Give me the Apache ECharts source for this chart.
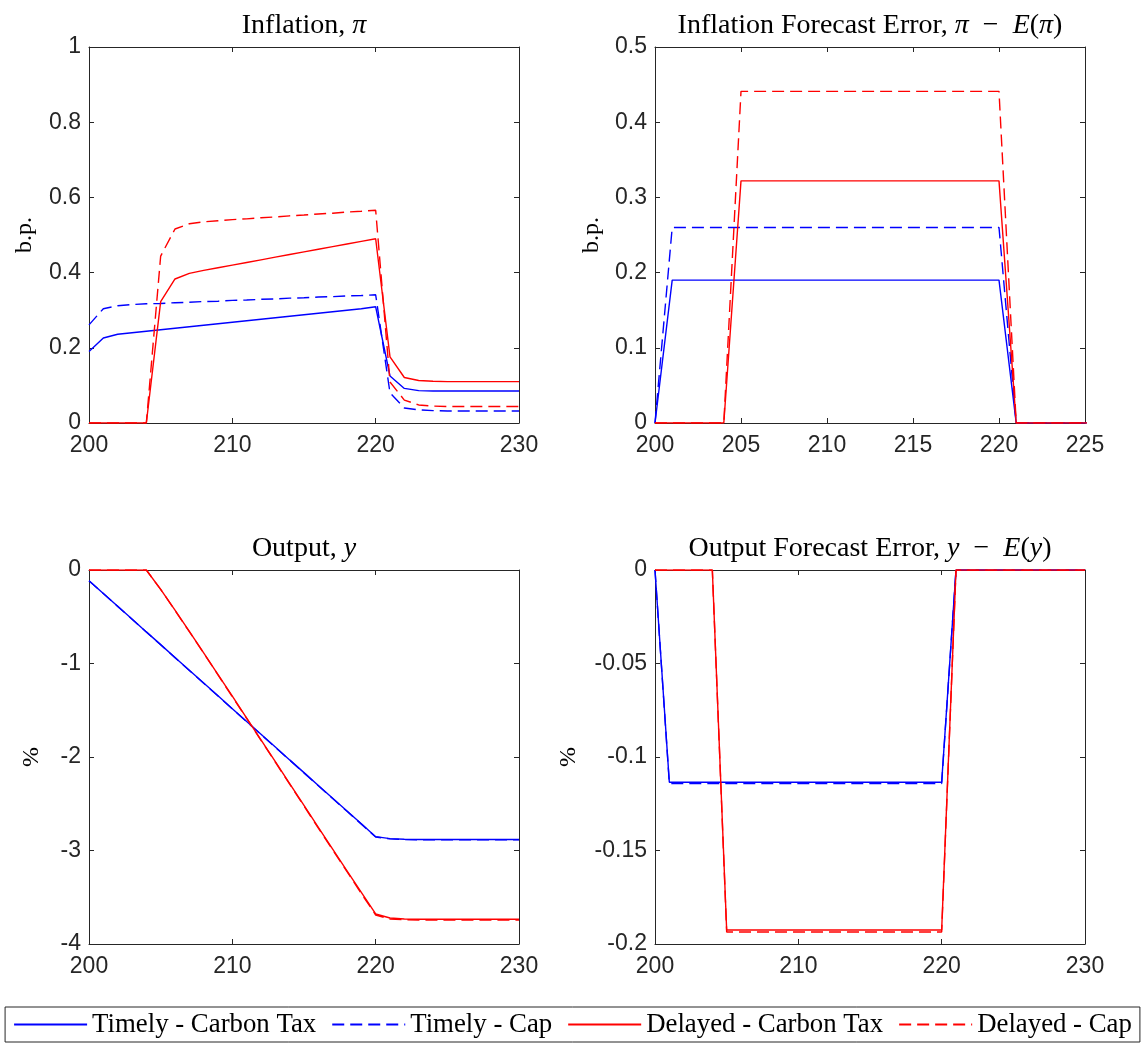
<!DOCTYPE html>
<html>
<head>
<meta charset="utf-8">
<script src="https://cdn.jsdelivr.net/npm/echarts@6/dist/echarts.min.js"></script>
<style>
  html, body { margin: 0; padding: 0; background: #ffffff; }
  #chart { width: 1145px; height: 1050px; }
</style>
</head>
<body>
<div id="chart"></div>
<script>
// Simulation periods
const periods = [200,201,202,203,204,205,206,207,208,209,210,211,212,213,214,215,216,217,218,219,220,221,222,223,224,225,226,227,228,229,230];

// Inflation, pi (b.p.)
const timelyTaxInfl   = [0.190,0.226,0.236,0.240,0.244,0.248,0.252,0.256,0.260,0.264,0.268,0.272,0.276,0.280,0.284,0.288,0.292,0.296,0.300,0.304,0.309,0.125,0.092,0.086,0.085,0.085,0.085,0.085,0.085,0.085,0.085];
const timelyCapInfl   = [0.261,0.304,0.312,0.315,0.317,0.318,0.320,0.321,0.323,0.324,0.326,0.327,0.329,0.330,0.332,0.333,0.335,0.336,0.338,0.339,0.341,0.080,0.040,0.035,0.033,0.032,0.032,0.032,0.032,0.032,0.032];
const delayedTaxInfl  = [0,0,0,0,0,0.323,0.383,0.398,0.406,0.413,0.420,0.427,0.434,0.441,0.448,0.455,0.462,0.469,0.476,0.483,0.490,0.176,0.121,0.113,0.111,0.110,0.110,0.110,0.110,0.110,0.110];
const delayedCapInfl  = [0,0,0,0,0,0.444,0.516,0.530,0.535,0.538,0.541,0.543,0.546,0.548,0.551,0.553,0.556,0.558,0.561,0.563,0.566,0.109,0.061,0.048,0.045,0.044,0.044,0.044,0.044,0.044,0.044];

// Inflation forecast error, pi - E(pi) (b.p.)
const timelyTaxPiErr  = [0,0.190,0.190,0.190,0.190,0.190,0.190,0.190,0.190,0.190,0.190,0.190,0.190,0.190,0.190,0.190,0.190,0.190,0.190,0.190,0.190,0,0,0,0,0,0,0,0,0,0];
const timelyCapPiErr  = [0,0.260,0.260,0.260,0.260,0.260,0.260,0.260,0.260,0.260,0.260,0.260,0.260,0.260,0.260,0.260,0.260,0.260,0.260,0.260,0.260,0,0,0,0,0,0,0,0,0,0];
const delayedTaxPiErr = [0,0,0,0,0,0.322,0.322,0.322,0.322,0.322,0.322,0.322,0.322,0.322,0.322,0.322,0.322,0.322,0.322,0.322,0.322,0,0,0,0,0,0,0,0,0,0];
const delayedCapPiErr = [0,0,0,0,0,0.441,0.441,0.441,0.441,0.441,0.441,0.441,0.441,0.441,0.441,0.441,0.441,0.441,0.441,0.441,0.441,0,0,0,0,0,0,0,0,0,0];

// Output, y (%)
const timelyTaxOut    = [-0.114,-0.251,-0.388,-0.525,-0.662,-0.798,-0.935,-1.072,-1.209,-1.346,-1.483,-1.620,-1.757,-1.894,-2.031,-2.167,-2.304,-2.441,-2.578,-2.715,-2.852,-2.873,-2.880,-2.882,-2.882,-2.882,-2.882,-2.882,-2.882,-2.882,-2.882];
const timelyCapOut    = [-0.115,-0.252,-0.389,-0.526,-0.663,-0.800,-0.937,-1.074,-1.211,-1.348,-1.485,-1.622,-1.759,-1.896,-2.033,-2.170,-2.307,-2.444,-2.581,-2.718,-2.855,-2.876,-2.884,-2.886,-2.886,-2.886,-2.886,-2.886,-2.886,-2.886,-2.886];
const delayedTaxOut   = [0,0,0,0,0,-0.207,-0.430,-0.657,-0.887,-1.118,-1.350,-1.583,-1.816,-2.050,-2.284,-2.518,-2.752,-2.985,-3.217,-3.449,-3.679,-3.722,-3.733,-3.735,-3.735,-3.735,-3.735,-3.735,-3.735,-3.735,-3.735];
const delayedCapOut   = [0,0,0,0,0,-0.208,-0.432,-0.660,-0.890,-1.122,-1.355,-1.588,-1.822,-2.056,-2.290,-2.525,-2.760,-2.994,-3.227,-3.460,-3.690,-3.733,-3.741,-3.743,-3.743,-3.743,-3.743,-3.743,-3.743,-3.743,-3.743];

// Output forecast error, y - E(y) (%)
const timelyTaxYErr   = [0,-0.1135,-0.1135,-0.1135,-0.1135,-0.1135,-0.1135,-0.1135,-0.1135,-0.1135,-0.1135,-0.1135,-0.1135,-0.1135,-0.1135,-0.1135,-0.1135,-0.1135,-0.1135,-0.1135,-0.1135,0,0,0,0,0,0,0,0,0,0];
const timelyCapYErr   = [0,-0.1142,-0.1142,-0.1142,-0.1142,-0.1142,-0.1142,-0.1142,-0.1142,-0.1142,-0.1142,-0.1142,-0.1142,-0.1142,-0.1142,-0.1142,-0.1142,-0.1142,-0.1142,-0.1142,-0.1142,0,0,0,0,0,0,0,0,0,0];
const delayedTaxYErr  = [0,0,0,0,0,-0.1925,-0.1925,-0.1925,-0.1925,-0.1925,-0.1925,-0.1925,-0.1925,-0.1925,-0.1925,-0.1925,-0.1925,-0.1925,-0.1925,-0.1925,-0.1925,0,0,0,0,0,0,0,0,0,0];
const delayedCapYErr  = [0,0,0,0,0,-0.1936,-0.1936,-0.1936,-0.1936,-0.1936,-0.1936,-0.1936,-0.1936,-0.1936,-0.1936,-0.1936,-0.1936,-0.1936,-0.1936,-0.1936,-0.1936,0,0,0,0,0,0,0,0,0,0];

// Scenario names (legend order)
const scenarioNames = ['Timely - Carbon Tax', 'Timely - Cap', 'Delayed - Carbon Tax', 'Delayed - Cap'];

// Axis ranges: [min, max, interval]
const xRanges = [[200, 230, 10], [200, 225, 5], [200, 230, 10], [200, 230, 10]];
const yRanges = [[0, 1, 0.2], [0, 0.5, 0.1], [-4, 0, 1], [-0.2, 0, 0.05]];
const yUnits  = ['b.p.', 'b.p.', '%', '%'];

const AXIS_COLOR = '#262626';
const SERIF = '"Liberation Serif", "DejaVu Serif", serif';
const SANS = '"Liberation Sans", Arial, Helvetica, sans-serif';

const scenarioColors = ['#0000ff', '#0000ff', '#ff0000', '#ff0000'];
const scenarioDashed = [false, true, false, true];

const panelSeries = [
  [timelyTaxInfl, timelyCapInfl, delayedTaxInfl, delayedCapInfl],
  [timelyTaxPiErr, timelyCapPiErr, delayedTaxPiErr, delayedCapPiErr],
  [timelyTaxOut, timelyCapOut, delayedTaxOut, delayedCapOut],
  [timelyTaxYErr, timelyCapYErr, delayedTaxYErr, delayedCapYErr]
];

// Plot boxes
const boxes = [
  { left: 89,  top: 47,  width: 430, height: 376, nameGap: 52 },
  { left: 655, top: 47,  width: 430, height: 376, nameGap: 51 },
  { left: 89,  top: 570, width: 430, height: 374, nameGap: 45 },
  { left: 655, top: 570, width: 430, height: 374, nameGap: 74 }
];

const fmt = v => String(+(+v).toFixed(4));

const grids = [], xAxes = [], yAxes = [], series = [];

boxes.forEach((b, i) => {
  grids.push({ left: b.left, top: b.top, width: b.width, height: b.height, containLabel: false, outerBoundsMode: 'none' });
  const [xmin, xmax, xint] = xRanges[i];
  const [ymin, ymax, yint] = yRanges[i];
  const lineCommon = () => ({ show: true, onZero: false, lineStyle: { color: AXIS_COLOR, width: 1 } });
  const tickCommon = () => ({ show: true, inside: true, length: 5, lineStyle: { color: AXIS_COLOR, width: 1 } });
  const labelCommon = (margin) => ({ margin: margin, fontFamily: SANS, fontSize: 23, color: AXIS_COLOR, formatter: fmt, showMinLabel: true, showMaxLabel: true });

  // bottom x axis with labels, top x axis with mirrored ticks
  xAxes.push({
    type: 'value', gridIndex: i, position: 'bottom', min: xmin, max: xmax, interval: xint,
    axisLine: lineCommon(), axisTick: tickCommon(), splitLine: { show: false },
    axisLabel: labelCommon(11)
  });
  xAxes.push({
    type: 'value', gridIndex: i, position: 'top', min: xmin, max: xmax, interval: xint,
    axisLine: lineCommon(), axisTick: tickCommon(), splitLine: { show: false },
    axisLabel: { show: false }
  });
  // left y axis with labels and unit, right y axis with mirrored ticks
  yAxes.push({
    type: 'value', gridIndex: i, position: 'left', min: ymin, max: ymax, interval: yint,
    axisLine: lineCommon(), axisTick: tickCommon(), splitLine: { show: false },
    axisLabel: labelCommon(8),
    name: yUnits[i], nameLocation: 'middle', nameGap: b.nameGap,
    nameTextStyle: { fontFamily: SERIF, fontSize: 24, color: '#000000' }
  });
  yAxes.push({
    type: 'value', gridIndex: i, position: 'right', min: ymin, max: ymax, interval: yint,
    axisLine: lineCommon(), axisTick: tickCommon(), splitLine: { show: false },
    axisLabel: { show: false }
  });

  panelSeries[i].forEach((vals, k) => {
    series.push({
      name: scenarioNames[k],
      type: 'line',
      xAxisIndex: 2 * i,
      yAxisIndex: 2 * i,
      symbol: 'none',
      clip: true,
      color: scenarioColors[k],
      data: periods.map((p, j) => [p, vals[j]]),
      lineStyle: { color: scenarioColors[k], width: 1.4, type: scenarioDashed[k] ? [12, 6] : 'solid' },
      itemStyle: { color: scenarioColors[k] }
    });
  });
});

const FS_TITLE = 28;
const titleRich = {
  m: { fontFamily: SERIF, fontSize: FS_TITLE, fontStyle: 'italic', color: '#000000' },
  r: { fontFamily: SERIF, fontSize: FS_TITLE, color: '#000000' }
};
const titleText = [
  '{r|Inflation, }{m|π}',
  '{r|Inflation Forecast Error, }{m|π}{r|\u2002−\u2002}{m|E}{r|(}{m|π}{r|)}',
  '{r|Output, }{m|y}',
  '{r|Output Forecast Error, }{m|y}{r|\u2002−\u2002}{m|E}{r|(}{m|y}{r|)}'
];
const titles = boxes.map((b, i) => ({
  text: titleText[i],
  left: b.left + b.width / 2,
  top: b.top - 35,
  textAlign: 'center',
  padding: 0,
  textStyle: { fontFamily: SERIF, fontSize: FS_TITLE, fontWeight: 'normal', color: '#000000', rich: titleRich }
}));

const chart = echarts.init(document.getElementById('chart'), null, { renderer: 'canvas' });
chart.setOption({
  animation: false,
  backgroundColor: '#ffffff',
  title: titles,
  grid: grids,
  xAxis: xAxes,
  yAxis: yAxes,
  legend: {
    data: scenarioNames,
    left: 'center',
    top: 1007,
    orient: 'horizontal',
    padding: [4, 8],
    itemGap: 15,
    itemWidth: 73,
    itemHeight: 14,
    borderColor: AXIS_COLOR,
    borderWidth: 1,
    selectedMode: false,
    itemStyle: { opacity: 0, borderWidth: 0 },
    textStyle: { fontFamily: SERIF, fontSize: 26.8, color: '#000000' }
  },
  series: series
});
</script>
</body>
</html>
